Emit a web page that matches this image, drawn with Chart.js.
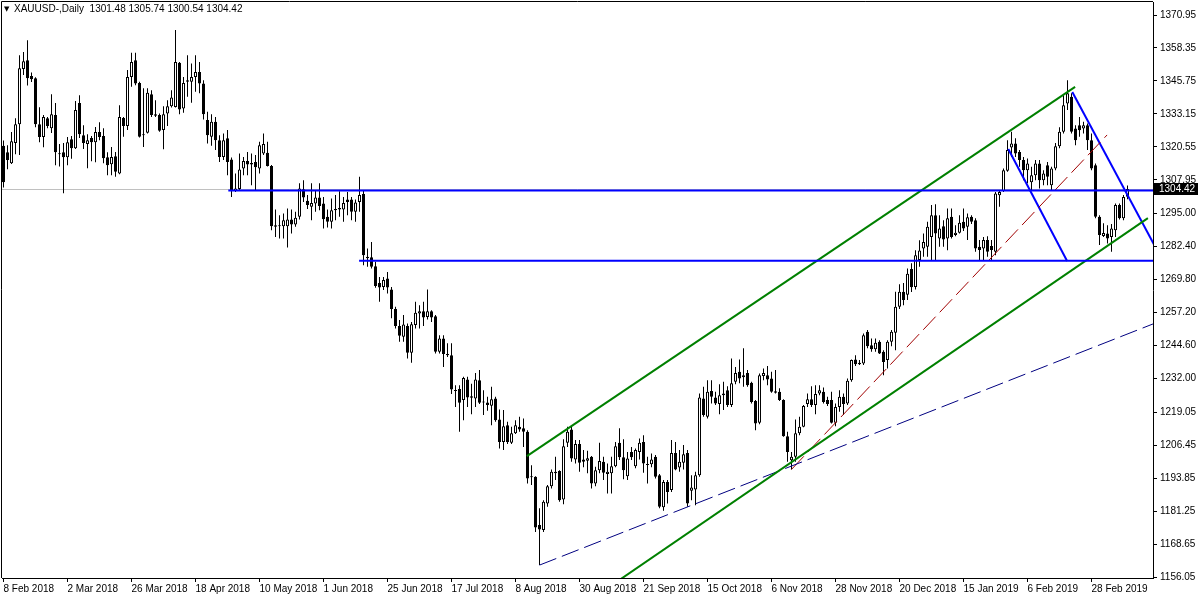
<!DOCTYPE html>
<html>
<head>
<meta charset="utf-8">
<script src="https://cdn.jsdelivr.net/npm/chart.js@4.4.0/dist/chart.umd.min.js"></script>
<style>
  html, body { margin: 0; padding: 0; background: #fff; }
  #wrap { width: 1200px; height: 600px; }
</style>
</head>
<body>
<div id="wrap"><canvas id="chart" width="1200" height="600"></canvas></div>
<script>
const symbolTitle = "XAUUSD-,Daily";

// daily bars, oldest first
const opens = [
  1321, 1318.5, 1314.3, 1322, 1329.2, 1350.3, 1353.7, 1347.6, 1346.8, 1329.2,
  1324.3, 1331.5, 1327.7, 1332.7, 1318.1, 1318.5, 1316.6, 1323.5, 1320, 1337.3,
  1325, 1321.6, 1323.9, 1322.3, 1326.2, 1324.7, 1316.6, 1313.9, 1317, 1310.4,
  1331.6, 1328.5, 1347.3, 1353.7, 1345, 1325, 1325.9, 1340.7, 1333, 1332.7,
  1327, 1333.3, 1336.1, 1335.8, 1352.7, 1335.2, 1346, 1345.4, 1347.3, 1349.2,
  1344.8, 1330.8, 1324.4, 1330.1, 1323.1, 1316.7, 1323.8, 1315.7, 1303.7, 1304.4,
  1312.3, 1315.1, 1314.4, 1314.8, 1312.3, 1318, 1318.3, 1313.2, 1290.6, 1290.2,
  1290.2, 1290.2, 1292.8, 1290.9, 1293.8, 1304.3, 1299.9, 1297.6, 1298.9, 1301.2,
  1298.9, 1293.8, 1291.9, 1296.3, 1297.2, 1296.6, 1300.4, 1300.4, 1295.7, 1299.5,
  1302.5, 1278.5, 1278.3, 1274.9, 1268.5, 1267, 1270.2, 1266, 1258.5, 1252,
  1247.9, 1252, 1241.8, 1252.4, 1256.8, 1257.7, 1255.5, 1257.7, 1255.8, 1242.2,
  1247.3, 1241.3, 1240.9, 1227.5, 1227.9, 1223.7, 1231.6, 1225.2, 1224.3, 1231.3,
  1223, 1222.8, 1221.5, 1224.3, 1216.3, 1207.7, 1214.1, 1207.4, 1211, 1213.5,
  1212.9, 1211.6, 1194.6, 1194.4, 1175.9, 1174, 1184.2, 1190.8, 1195.7, 1196.6,
  1185.7, 1207.4, 1212.5, 1201, 1206.9, 1201, 1200.5, 1202, 1191.8, 1196.9,
  1200.1, 1195.4, 1195.7, 1198.4, 1207.4, 1201.8, 1194.6, 1203.9, 1198.4, 1203.9,
  1207.7, 1199.2, 1199.2, 1202, 1195, 1182.7, 1192.4, 1189.3, 1203.5, 1197.9,
  1199.7, 1203.5, 1189, 1189.5, 1195, 1224.3, 1217.3, 1227.2, 1224.7, 1222.2,
  1225.6, 1227.5, 1221.8, 1230.7, 1234.5, 1232.4, 1234.1, 1230.3, 1223.4, 1215,
  1232.9, 1233.2, 1232, 1227.1, 1226.9, 1223.7, 1209.9, 1200.7, 1202, 1211,
  1213.5, 1222.2, 1224, 1221.8, 1226.2, 1226.9, 1223.7, 1223.7, 1215, 1221.1,
  1225, 1222.4, 1231.3, 1239.2, 1238, 1237.7, 1249.8, 1244.7, 1243.1, 1246,
  1242.2, 1239, 1246, 1249.5, 1259.4, 1265.1, 1264, 1273.8, 1267, 1277.3,
  1281.7, 1282.3, 1286.1, 1294.4, 1285.5, 1290.2, 1285.5, 1293.8, 1286.8, 1287.7,
  1291.9, 1290, 1293.8, 1292.5, 1282.3, 1281.7, 1284.9, 1282.6, 1280.4, 1302,
  1303.7, 1311.4, 1320.3, 1321.8, 1318.6, 1315.5, 1311.6, 1307, 1309.7, 1314.2,
  1307.8, 1313.5, 1305.9, 1312.3, 1320.8, 1326.3, 1337.1, 1339.7, 1327.6, 1328.8,
  1327.6, 1328.8, 1323.1, 1313.5, 1293.8, 1286.5, 1287.4, 1286.1, 1288.7, 1298.3,
  1293.2, 1301.48
];
const highs = [
  1323, 1321.2, 1326.2, 1331.5, 1355.6, 1356.8, 1361.3, 1349, 1347.2, 1335.7,
  1332.7, 1332, 1340.7, 1337.3, 1321.6, 1322, 1324.3, 1324.7, 1338.1, 1340.3,
  1328.8, 1325.4, 1324.7, 1328.1, 1330, 1327.7, 1318.5, 1320.5, 1318.6, 1336.5,
  1332, 1349.9, 1356.5, 1356.5, 1345.4, 1343, 1343, 1342.2, 1338.4, 1333.3,
  1336.1, 1338.4, 1342.2, 1365.2, 1353, 1347.3, 1355.6, 1352.4, 1355.6, 1353,
  1346, 1334, 1333, 1332, 1325, 1325.7, 1327, 1316.5, 1310.4, 1318,
  1316.7, 1318.6, 1318, 1317.4, 1322.5, 1325.7, 1322.5, 1313.6, 1296.6, 1294.4,
  1295.1, 1297, 1296.6, 1295.7, 1306.6, 1307.8, 1302.1, 1306.6, 1304, 1306.6,
  1301.4, 1296.6, 1300.8, 1302.1, 1303.6, 1301.4, 1303.3, 1301.4, 1300.4, 1309.1,
  1303.7, 1281.7, 1284.2, 1276.6, 1270.8, 1270.8, 1272.7, 1267, 1259.4, 1254.3,
  1256.2, 1253, 1253.6, 1261.3, 1260, 1261.3, 1266, 1258.1, 1256.2, 1248.5,
  1248.5, 1245.4, 1245.4, 1229.4, 1229.4, 1232.6, 1232.6, 1230, 1234.1, 1235.2,
  1227.5, 1225, 1228.8, 1225, 1220.1, 1219.9, 1215.4, 1213.5, 1216, 1217.3,
  1216.7, 1212.2, 1198.8, 1194.6, 1182.3, 1185.4, 1191.2, 1197.2, 1202, 1196.9,
  1208.7, 1213.5, 1213.5, 1208.4, 1208.4, 1204.6, 1204.3, 1202.3, 1198.2, 1207.4,
  1202, 1199.5, 1202, 1207.7, 1212.9, 1208.7, 1203.9, 1205.8, 1205.2, 1209,
  1210.3, 1202, 1203.3, 1202.7, 1195.4, 1193.1, 1193.1, 1208.4, 1207.7, 1204.6,
  1206.5, 1204.6, 1195, 1196.3, 1226.2, 1228.8, 1231.3, 1231.3, 1226.9, 1229.8,
  1230.7, 1229, 1239.6, 1236.4, 1239.2, 1243.5, 1235.2, 1230.7, 1223.7, 1233.9,
  1235.8, 1236.7, 1234.5, 1235.2, 1228.2, 1224, 1211.6, 1203.9, 1216.3, 1217.3,
  1221.8, 1226.2, 1229, 1229.4, 1229.4, 1228.5, 1225, 1226.9, 1222.4, 1227.5,
  1226.2, 1232, 1239.2, 1240.9, 1239, 1249.2, 1250.5, 1247.3, 1247.3, 1246.6,
  1242.8, 1246.6, 1250.5, 1265.1, 1268, 1268.5, 1274, 1276, 1281, 1284.8,
  1287.4, 1291.9, 1298.3, 1298.6, 1294.4, 1292.5, 1297, 1297, 1290.6, 1294.4,
  1297, 1295.1, 1294.4, 1293.2, 1284.9, 1286.1, 1286.4, 1284.9, 1303.3, 1304,
  1312.3, 1323.1, 1326.3, 1323.8, 1319.3, 1316.7, 1316.1, 1312.9, 1315.5, 1315.5,
  1311.6, 1314.8, 1312.9, 1322, 1328, 1340.3, 1346, 1341, 1328.8, 1332,
  1330.1, 1329.5, 1325.7, 1314.2, 1294.4, 1291.3, 1290.6, 1291, 1298.9, 1298.9,
  1302.1, 1305.74
];
const lows = [
  1305, 1312, 1314, 1317.7, 1317.4, 1348, 1344, 1345.3, 1328, 1322.3,
  1320.4, 1327.7, 1325.8, 1313.5, 1313, 1302.8, 1313.5, 1316, 1319.7, 1323.9,
  1319.7, 1312.4, 1315, 1314.7, 1323.1, 1314.3, 1309.7, 1309.7, 1309.1, 1310.1,
  1324.4, 1327, 1343.5, 1344.1, 1324.1, 1320.5, 1325.7, 1332, 1332, 1326.3,
  1319.6, 1328.5, 1335.6, 1335.6, 1333, 1333.6, 1339.7, 1337.4, 1341.6, 1341,
  1331, 1321.8, 1321, 1319.3, 1314.8, 1315.5, 1309.7, 1301.4, 1303.3, 1304,
  1309.7, 1309.7, 1305.9, 1304, 1310.4, 1317.4, 1313, 1288.7, 1286.1, 1285.5,
  1285.5, 1282.1, 1287.4, 1290, 1292.8, 1299.5, 1296.8, 1292.5, 1295.7, 1296.3,
  1289.3, 1289.7, 1289.3, 1292.5, 1293.8, 1291.9, 1294.4, 1292.5, 1291.9, 1295.7,
  1275.3, 1274.7, 1274, 1266.7, 1261.3, 1265.8, 1264.5, 1255, 1251.1, 1246,
  1246, 1239.6, 1238, 1251.1, 1251.1, 1252, 1254.5, 1253.6, 1241.5, 1241.5,
  1236.4, 1240.2, 1226, 1221.1, 1211.6, 1216, 1221.1, 1218.3, 1221.1, 1222.2,
  1218, 1219.6, 1214.1, 1215.4, 1205.2, 1204.6, 1206.9, 1206.9, 1210.7, 1211.6,
  1205.8, 1191.8, 1191.2, 1173.3, 1160.6, 1173.3, 1182.9, 1189.9, 1193.1, 1184.8,
  1183.9, 1205.8, 1200.1, 1199.5, 1196.3, 1198, 1195.7, 1189.9, 1190.8, 1195.7,
  1193.1, 1188, 1188, 1198, 1200.8, 1193.4, 1193.1, 1200.8, 1197.6, 1201,
  1195.9, 1191.8, 1198, 1193.7, 1182.3, 1181.4, 1184.2, 1188.6, 1196.9, 1196.3,
  1197.2, 1182.9, 1185.4, 1183.5, 1194.4, 1217.3, 1216.7, 1222.4, 1221.8, 1218.3,
  1219.9, 1221.1, 1221.1, 1229.8, 1230.1, 1228.8, 1228.8, 1222.4, 1212.2, 1214.5,
  1231.3, 1229.4, 1226.5, 1226.2, 1223.4, 1209.7, 1200.1, 1197.2, 1200.1, 1210.3,
  1213.3, 1221.1, 1221.1, 1218.3, 1225.6, 1222.4, 1221.4, 1214.8, 1213.7, 1219.2,
  1218, 1221.8, 1230.7, 1236.7, 1237.1, 1237.1, 1243.5, 1242.2, 1242.2, 1241.3,
  1233.2, 1235.8, 1244.3, 1242.8, 1258.5, 1260, 1262, 1265, 1266, 1274.7,
  1278.5, 1278.5, 1277.3, 1277.3, 1282.3, 1282.3, 1281, 1285.5, 1286.4, 1287.4,
  1288.4, 1284.9, 1291, 1280.4, 1277.3, 1277.3, 1278.5, 1277.3, 1279.1, 1297.6,
  1303.3, 1311, 1316.7, 1316.7, 1312.9, 1307.8, 1306.6, 1304, 1307.8, 1304.6,
  1305.9, 1305.9, 1304, 1311.6, 1320, 1325.7, 1334.6, 1325.7, 1321.2, 1324.4,
  1325.7, 1319.3, 1311.6, 1293.2, 1283, 1286.1, 1283.6, 1280.4, 1286.1, 1292.8,
  1292.5, 1300.54
];
const closes = [
  1307, 1315.5, 1322.7, 1329.2, 1350.6, 1353.3, 1346.8, 1346.4, 1329.2, 1324.3,
  1332, 1328.5, 1333, 1318.5, 1317.7, 1316.6, 1322.3, 1320, 1334.6, 1325.4,
  1322, 1323.1, 1322.3, 1326.2, 1324.3, 1316.2, 1313.5, 1316.7, 1311, 1332,
  1328.5, 1347.3, 1353, 1344.8, 1324.4, 1325.4, 1341.2, 1332.7, 1332.4, 1326.7,
  1333, 1336.1, 1339.4, 1353, 1334.8, 1345, 1345.4, 1347.3, 1349.2, 1344.8,
  1333, 1325, 1330.1, 1323.1, 1316.7, 1323.1, 1314.8, 1303.7, 1304.6, 1311.9,
  1315.1, 1313.8, 1313.8, 1312.7, 1321.2, 1321.6, 1313.2, 1290.2, 1290, 1290.6,
  1292.5, 1292.8, 1290.9, 1293.4, 1304.6, 1301.2, 1298.3, 1299.1, 1301.2, 1297.9,
  1292.9, 1291.9, 1296.3, 1296.8, 1296.6, 1299.1, 1299.5, 1295.7, 1299.3, 1302.1,
  1279.1, 1277.9, 1274.7, 1267.3, 1266.8, 1269.6, 1266.8, 1258.5, 1252, 1248.3,
  1252.6, 1241.8, 1252.7, 1257.1, 1257.7, 1255.3, 1257.7, 1255.3, 1242.2, 1247.3,
  1241.3, 1240.9, 1227.8, 1227.2, 1222.7, 1232.2, 1224.7, 1224.6, 1231.6, 1222.7,
  1222.8, 1221.8, 1224, 1216, 1207.7, 1213.7, 1207.7, 1211, 1214.1, 1212.5,
  1211.6, 1193.7, 1194.2, 1175, 1174.2, 1184.8, 1190.8, 1196.3, 1196.3, 1185.4,
  1206.1, 1211.6, 1201.4, 1206.9, 1199.7, 1200.1, 1201.5, 1191.8, 1196.9, 1200.4,
  1195.9, 1196.3, 1198.4, 1206.1, 1201.8, 1196.9, 1201.4, 1201.8, 1204.6, 1207.4,
  1199.5, 1198.9, 1201, 1194.4, 1182.9, 1192.4, 1188.6, 1203.5, 1197.2, 1200.1,
  1203, 1184.2, 1190.3, 1195, 1224.7, 1218, 1226.9, 1225, 1222.4, 1225.6,
  1226.2, 1221.8, 1230.1, 1234.1, 1232, 1233.2, 1229.4, 1223, 1214.8, 1233.2,
  1234.1, 1231.6, 1226.9, 1226.5, 1223.7, 1209.9, 1203.9, 1202, 1211, 1213.5,
  1221.4, 1224, 1221.8, 1226, 1227.5, 1223, 1222.2, 1215, 1221.1, 1225,
  1222.2, 1231.1, 1239, 1237.4, 1237.4, 1248.5, 1244.3, 1243.1, 1245.6, 1241.5,
  1238.3, 1246, 1249.8, 1259.4, 1265.1, 1262, 1272, 1266.9, 1279.1, 1280.9,
  1284.2, 1290, 1294.4, 1287.4, 1289.3, 1285.1, 1293.2, 1286.1, 1287.7, 1291.5,
  1289.3, 1293.6, 1291.9, 1281.7, 1281.1, 1284.9, 1280.4, 1281.1, 1302.7, 1303.3,
  1311.6, 1319.3, 1321.8, 1318, 1315.5, 1311.6, 1314.2, 1309.7, 1314.2, 1307.8,
  1310.4, 1309.1, 1312.3, 1320.8, 1326.3, 1336.5, 1341, 1326.3, 1323.1, 1326.9,
  1328.8, 1323.1, 1312.3, 1293.8, 1286.8, 1287.6, 1285.5, 1289.3, 1298.3, 1293.2,
  1301.4, 1304.42
];

// one date label every 16 bars
const dateLabels = [
  "8 Feb 2018", "2 Mar 2018", "26 Mar 2018", "18 Apr 2018", "10 May 2018", "1 Jun 2018",
  "25 Jun 2018", "17 Jul 2018", "8 Aug 2018", "30 Aug 2018", "21 Sep 2018", "15 Oct 2018",
  "6 Nov 2018", "28 Nov 2018", "20 Dec 2018", "15 Jan 2019", "6 Feb 2019", "28 Feb 2019"
];
const labelStep = 16;

const priceTicks = [
  1370.95, 1358.35, 1345.75, 1333.15, 1320.55, 1307.95, 1295.00, 1282.40, 1269.80,
  1257.20, 1244.60, 1232.00, 1219.05, 1206.45, 1193.85, 1181.25, 1168.65, 1156.05
];

// drawn objects, as [bar index, price] anchors
const resistanceLine = [{ x: 56.2, y: 1303.9 }, { x: 300, y: 1303.9 }];
const supportLine = [{ x: 88.9, y: 1277.0 }, { x: 300, y: 1277.0 }];
const channelTop = [{ x: 130.85, y: 1202.3 }, { x: 267.9, y: 1343.5 }];
const channelBottom = [{ x: 149.2, y: 1149.9 }, { x: 286.1, y: 1293.3 }];
const longTrend = [{ x: 134, y: 1160.6 }, { x: 290, y: 1254.4 }];
const shortTrend = [{ x: 197, y: 1197.2 }, { x: 275.9, y: 1325.1 }];
const fallLeft = [{ x: 251.2, y: 1319.7 }, { x: 265.9, y: 1276.9 }];
const fallRight = [{ x: 267.2, y: 1341.5 }, { x: 290, y: 1276.4 }];

const FONT = "'Liberation Sans', Arial, sans-serif";
const last = opens.length - 1;

const wickData = opens.map((o, i) => ({
  x: i, y: [Math.min(lows[i], o, closes[i]), Math.max(highs[i], o, closes[i])]
}));
const bodyData = opens.map((o, i) => ({ x: i, y: [o, closes[i]] }));
const bodyColors = opens.map((o, i) => closes[i] >= o ? '#ffffff' : '#000000');

function lineSet(data, color, width, dash) {
  return {
    type: 'line', data: data, borderColor: color, borderWidth: width,
    borderDash: dash || [], pointRadius: 0, fill: false, tension: 0, order: 0
  };
}

// frame, bid line, header text and last price box
const mtDecor = {
  id: 'mtDecor',
  beforeDatasetsDraw(chart) {
    const { ctx, chartArea, scales } = chart;
    const y = Math.round(scales.y.getPixelForValue(closes[last])) + 0.5;
    ctx.save();
    ctx.strokeStyle = '#c0c0c0';
    ctx.lineWidth = 1;
    ctx.beginPath();
    ctx.moveTo(chartArea.left, y);
    ctx.lineTo(chartArea.right, y);
    ctx.stroke();
    ctx.restore();
  },
  afterDraw(chart) {
    const { ctx, chartArea, scales } = chart;
    ctx.save();
    ctx.strokeStyle = '#000';
    ctx.lineWidth = 1;
    ctx.beginPath();
    ctx.moveTo(1.5, chartArea.bottom);
    ctx.lineTo(1.5, 1.5);
    ctx.lineTo(chartArea.right, 1.5);
    ctx.stroke();

    // header
    ctx.fillStyle = '#000';
    ctx.font = "7px 'DejaVu Sans', sans-serif";
    ctx.textBaseline = 'middle';
    ctx.fillText('\u25BC', 4, 9);
    ctx.font = '10px ' + FONT;
    const ohlc = [opens[last], highs[last], lows[last], closes[last]].map(v => v.toFixed(2)).join(' ');
    ctx.fillText(symbolTitle + '  ' + ohlc, 14, 9);

    // current price box
    const y = Math.round(scales.y.getPixelForValue(closes[last]));
    ctx.fillStyle = '#000';
    ctx.fillRect(chartArea.right + 1, y - 6, 44, 12);
    ctx.fillStyle = '#fff';
    ctx.fillText(closes[last].toFixed(2), chartArea.right + 6, y);
    ctx.restore();
  }
};

const ctx = document.getElementById('chart').getContext('2d');
new Chart(ctx, {
  type: 'bar',
  data: {
    datasets: [
      lineSet(resistanceLine, '#0000ff', 2),
      lineSet(supportLine, '#0000ff', 2),
      lineSet(channelTop, '#008000', 2),
      lineSet(channelBottom, '#008000', 2),
      lineSet(longTrend, '#000080', 1, [18, 6]),
      lineSet(shortTrend, '#a00000', 1, [18, 6]),
      lineSet(fallLeft, '#0000ff', 2),
      lineSet(fallRight, '#0000ff', 2),
      {
        type: 'bar', data: bodyData, backgroundColor: bodyColors, borderColor: '#000',
        borderWidth: 1, borderSkipped: false, barThickness: 3, grouped: false,
        inflateAmount: 0, minBarLength: 1, order: 1
      },
      {
        type: 'bar', data: wickData, backgroundColor: '#000', borderWidth: 0,
        barThickness: 1, grouped: false, inflateAmount: 0, order: 2
      }
    ]
  },
  options: {
    responsive: false,
    animation: false,
    events: [],
    layout: { padding: { left: 2, top: 2, right: 0, bottom: 0 } },
    plugins: { legend: { display: false }, tooltip: { enabled: false } },
    scales: {
      x: {
        type: 'linear',
        min: -0.375,
        max: 287.375,
        offset: false,
        grid: { display: true, drawOnChartArea: false, drawTicks: true, tickLength: 4, color: '#000', offset: false },
        border: { display: true, color: '#000' },
        ticks: {
          autoSkip: false, maxRotation: 0, align: 'start', padding: 1,
          color: '#000', font: { family: FONT, size: 10 },
          callback: (v) => dateLabels[Math.round(v / labelStep)]
        },
        afterBuildTicks: (s) => { s.ticks = dateLabels.map((d, k) => ({ value: k * labelStep })); },
        afterFit: (s) => { s.height = 22; s.paddingLeft = 0; s.paddingRight = 0; }
      },
      y: {
        type: 'linear',
        position: 'right',
        min: 1155.67,
        max: 1375.94,
        grid: { display: true, drawOnChartArea: false, drawTicks: true, tickLength: 4, color: '#000' },
        border: { display: true, color: '#000' },
        ticks: {
          padding: 3, color: '#000', font: { family: FONT, size: 10 },
          callback: (v) => Number(v).toFixed(2)
        },
        afterBuildTicks: (s) => { s.ticks = priceTicks.map(v => ({ value: v })); },
        afterFit: (s) => { s.width = 47; s.paddingTop = 0; s.paddingBottom = 0; }
      }
    }
  },
  plugins: [mtDecor]
});
</script>
</body>
</html>
